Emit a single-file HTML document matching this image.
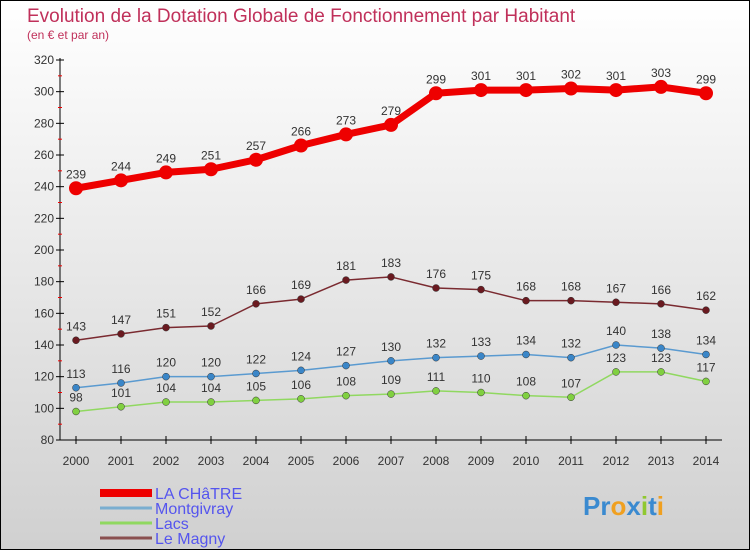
<!DOCTYPE html>
<html><head><meta charset="utf-8"><style>
body{margin:0}
#c{width:750px;height:550px;position:relative;background:linear-gradient(#fff,#d0d0d0);box-sizing:border-box;border:1px solid #000;font-family:"Liberation Sans",sans-serif;overflow:hidden}
</style></head><body>
<div id="c">
<svg id="s" width="750" height="550" style="position:absolute;left:-1px;top:-1px" font-family="Liberation Sans, sans-serif">
<text x="27" y="22" font-size="19" fill="#c0305a">Evolution de la Dotation Globale de Fonctionnement par Habitant</text>
<text x="27" y="39" font-size="12" fill="#c0305a">(en € et par an)</text>
</svg>
</div>
<script>
const years=[2000,2001,2002,2003,2004,2005,2006,2007,2008,2009,2010,2011,2012,2013,2014];
const laChatre=[239,244,249,251,257,266,273,279,299,301,301,302,301,303,299];
const montgivray=[113,116,120,120,122,124,127,130,132,133,134,132,140,138,134];
const lacs=[98,101,104,104,105,106,108,109,111,110,108,107,123,123,117];
const leMagny=[143,147,151,152,166,169,181,183,176,175,168,168,167,166,162];
const yTicks=[80,100,120,140,160,180,200,220,240,260,280,300,320];
const NS="http://www.w3.org/2000/svg";
const s=document.getElementById('s');
const X=i=>76+i*45, Y=v=>440-(v-80)*380/240;
function el(t,a,p){const e=document.createElementNS(NS,t);for(const k in a)e.setAttribute(k,a[k]);(p||s).appendChild(e);return e;}
let ax=el('line',{x1:60,y1:58,x2:60,y2:440,stroke:'#000'});

let bx=el('line',{x1:60,y1:440,x2:722,y2:440,stroke:'#000'});

yTicks.forEach(v=>{
 el('line',{x1:56,x2:64,y1:Y(v),y2:Y(v),stroke:'#000'});
 if(v<320)el('line',{x1:58,x2:62,y1:Y(v+10),y2:Y(v+10),stroke:'#e00'});
 const t=el('text',{x:54,y:Y(v)+4,'text-anchor':'end','font-size':12,fill:'#333'});t.textContent=v;
 
});
years.forEach((y,i)=>{
 el('line',{x1:X(i),x2:X(i),y1:436,y2:444,stroke:'#000'});
 const t=el('text',{x:X(i),y:465,'text-anchor':'middle','font-size':12,fill:'#333'});t.textContent=y;
 
});
function series(vals,color,dot,lw,r,name,labels){
 const g=el('g',{});
 el('polyline',{points:vals.map((v,i)=>X(i)+','+Y(v)).join(' '),fill:'none',stroke:color,'stroke-width':lw,'stroke-linejoin':'round'},g);
 vals.forEach((v,i)=>{
  const c=el('circle',{cx:X(i),cy:Y(v),r:r,fill:dot,stroke:lw>3?'none':'#333','stroke-width':0.5},g);
  
  const t=el('text',{x:X(i),y:Y(v)-10,'text-anchor':'middle','font-size':12,fill:'#333'},g);t.textContent=v;
  
 });
}
series(leMagny,'#7a2a30','#6a1a20',1.5,3.5,'le-magny');
series(montgivray,'#5a9ad0','#3a86c8',1.5,3.5,'montgivray');
series(lacs,'#90d860','#80d040',1.5,3.5,'lacs');
series(laChatre,'#e00','#e00',7,7,'la-chatre');
const leg=[['LA CHâTRE','#e00',8],['Montgivray','#7aaed0',3],['Lacs','#90d860',3],['Le Magny','#8a5050',3]];
leg.forEach((l,i)=>{
 const y=493+i*15;
 const g=el('g',{});
 el('line',{x1:100,x2:152,y1:y,y2:y,stroke:l[1],'stroke-width':l[2]},g);
 const t=el('text',{x:155,y:y+6,'font-size':16,fill:'#5555ee'},g);t.textContent=l[0];
});
const lg=el('text',{x:583,y:515,'font-size':26,'font-weight':'bold',fill:'#f0a020'});

lg.innerHTML='<tspan fill="#3a8ad0">Pr</tspan><tspan fill="#f0a020">o</tspan><tspan fill="#3a8ad0">x</tspan><tspan fill="#90c830">i</tspan><tspan fill="#3a8ad0">t</tspan><tspan fill="#f0a020">i</tspan>';
</script>
</body></html>
